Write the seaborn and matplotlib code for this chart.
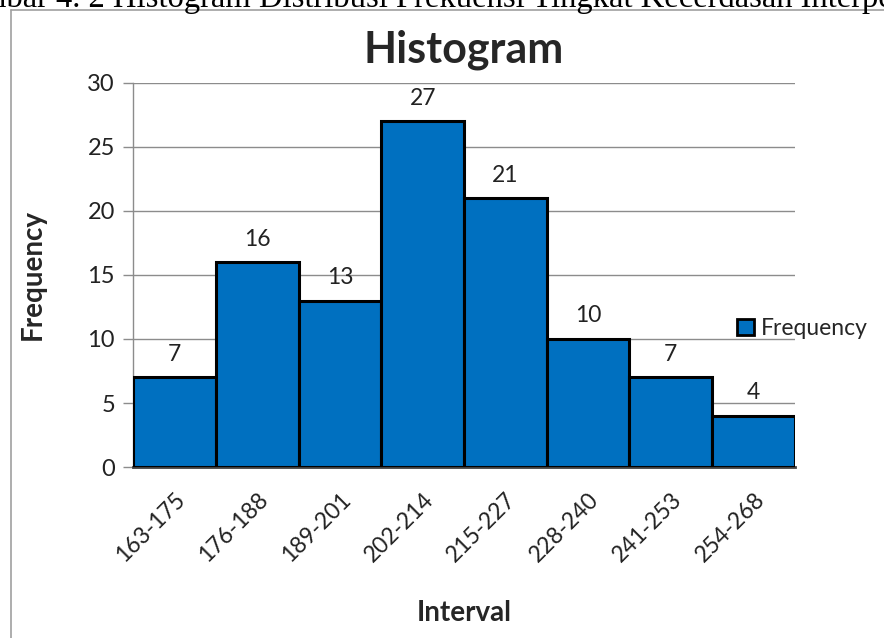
import matplotlib
matplotlib.use("Agg")
import matplotlib.pyplot as plt
from matplotlib.patches import Rectangle
from matplotlib.lines import Line2D
import pandas as pd
import seaborn as sns

# data
intervals = ["163-175", "176-188", "189-201", "202-214",
             "215-227", "228-240", "241-253", "254-268"]
frequency = [7, 16, 13, 27, 21, 10, 7, 4]

caption = "Gambar 4. 2 Histogram Distribusi Frekuensi Tingkat Kecerdasan Interpersonal"

sns.set_style("white")
plt.rcParams['font.family'] = ['Lato', 'DejaVu Sans']

df = pd.DataFrame({"Interval": intervals, "Frequency": frequency})

fig = plt.figure(figsize=(8.84, 6.38), dpi=100)
ax = fig.add_axes([0.1505, 0.268, 0.7488, 0.602])

bar_color = "#0070C0"
sns.barplot(data=df, x="Interval", y="Frequency", color=bar_color,
            width=1.0, edgecolor="black", linewidth=2.2, saturation=1,
            ax=ax, zorder=3)

# value labels above bars
ax.bar_label(ax.containers[0], labels=[str(v) for v in frequency],
             padding=9, fontsize=16.5, color="#222222")

ax.set_ylim(0, 30)
ax.set_yticks(range(0, 31, 5))
ax.set_xlim(-0.5, len(intervals) - 0.5)
ax.yaxis.grid(True, color="#8c8c8c", linewidth=1.0, zorder=0)
ax.set_axisbelow(True)

for s in ["top", "right"]:
    ax.spines[s].set_visible(False)
ax.spines["left"].set_color("#8c8c8c")
ax.spines["left"].set_linewidth(1.0)
ax.spines["bottom"].set_color("#404040")
ax.spines["bottom"].set_linewidth(2.0)

# excel style: tick marks sit between categories
ax.set_xticks([i - 0.5 for i in range(len(intervals) + 1)], minor=True)
ax.tick_params(axis="x", which="minor", length=7, color="#8c8c8c", width=1)
ax.tick_params(axis="x", which="major", length=0, pad=16)
ax.tick_params(axis="y", length=7, color="#8c8c8c", width=1, left=True, pad=6)
ax.set_xticks(range(len(intervals)))
ax.set_xticklabels(intervals, rotation=45, ha="right", rotation_mode="anchor",
                   fontsize=16.5, color="#222222")
for t in ax.get_yticklabels():
    t.set_fontsize(17)
    t.set_color("#222222")

ax.set_xlabel("Interval", fontsize=20, fontweight="bold", labelpad=24)
ax.set_ylabel("Frequency", fontsize=20, fontweight="bold", labelpad=30)
ax.set_title("Histogram", fontsize=31, fontweight="bold", pad=15)

# legend on the right
handle = Rectangle((0, 0), 1, 1, facecolor=bar_color, edgecolor="black", linewidth=2)
fig.legend([handle], ["Frequency"], loc="center left",
           bbox_to_anchor=(0.81, 0.485), frameon=False, fontsize=16.5,
           handlelength=0.75, handleheight=0.75, handletextpad=0.3)

# chart frame and cut off caption of the source page
fig.add_artist(Line2D([11 / 884, 11 / 884], [0, 1 - 10 / 638],
                      transform=fig.transFigure, color="#a0a0a0", linewidth=1.2))
fig.add_artist(Line2D([11 / 884, 1], [1 - 10 / 638, 1 - 10 / 638],
                      transform=fig.transFigure, color="#a0a0a0", linewidth=1.2))
fig.text(-0.065, 1 - 7 / 638, caption, family="Liberation Serif",
         fontsize=23.5, va="baseline", ha="left", color="black")

fig.savefig("out.png", dpi=100)
